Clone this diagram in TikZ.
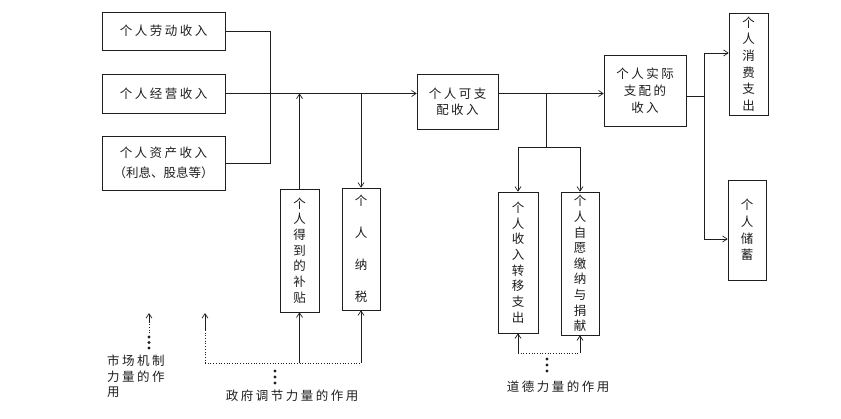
\documentclass[tikz,border=0pt]{standalone}
\usepackage{fontspec}
\newfontfamily\cjk[LetterSpace=20]{Noto Sans CJK SC}
\newfontfamily\cjkn{Noto Sans CJK SC}
\usetikzlibrary{arrows.meta,calc}
\definecolor{cInk}{HTML}{1E1E1E}
\tikzset{
  every node/.style={font=\cjk\fontsize{12.5}{20}\selectfont, text=cInk},
  box/.style={draw=cInk, line width=0.7pt, inner sep=1pt, align=center},
  vbox/.style={box, font=\cjk\fontsize{12.5}{#1}\selectfont},
  vbox/.default=17,
  ln/.style={line width=0.7pt, draw=cInk},
  dln/.style={ln, dotted},
  arr/.style={-{Straight Barb[length=4.5pt,width=6pt]}, line width=0.7pt, draw=cInk},
  dotpt/.style={circle, fill=cInk, inner sep=0pt, minimum size=3.2pt},
}
\begin{document}
\begin{tikzpicture}[x=1pt,y=-1pt]
\useasboundingbox (0,0) rectangle (841,418);
% income sources
\node[box, minimum width=123pt, minimum height=38pt] (lab) at (163.5,31) {个人劳动收入};
\node[box, minimum width=123pt, minimum height=39pt] (biz) at (163.5,93.5) {个人经营收入};
\node[box, minimum width=123pt, minimum height=54pt] (ast) at (163.5,163) {个人资产收入\\{\cjkn（利息、股息等）}};
% government
\node[vbox=15.7, minimum width=39pt, minimum height=123pt] (sub) at (299.5,250.5) {个\\人\\得\\到\\的\\补\\贴};
\node[vbox=32, minimum width=38pt, minimum height=122pt] (tax) at (361,249) {个\\人\\纳\\税};
% disposable income
\node[box, minimum width=81pt, minimum height=55pt, font=\cjk\fontsize{12.5}{16}\selectfont] (disp) at (457.5,101.5) {个人可支\\配收入};
\node[vbox=15.7, minimum width=40pt, minimum height=141pt] (trans) at (518,262.5) {个\\人\\收\\入\\转\\移\\支\\出};
\node[vbox=15.6, minimum width=38pt, minimum height=143pt] (don) at (580,263.5) {个\\人\\自\\愿\\缴\\纳\\与\\捐\\献};
\node[box, minimum width=82pt, minimum height=71pt, font=\cjk\fontsize{12.5}{17}\selectfont] (act) at (645,90.5) {个人实际\\支配的\\收入};
% uses
\node[vbox=16.6, minimum width=39pt, minimum height=102pt] (cons) at (748.5,64) {个\\人\\消\\费\\支\\出};
\node[vbox=16.7, minimum width=38pt, minimum height=100pt] (sav) at (747,230) {个\\人\\储\\蓄};

% main flow
\draw[ln] (lab.east) -- ++(45,0) |- (ast.east);
\draw[arr] (biz.east) -- (biz.east -| disp.west);
\draw[arr] (sub.north) -- (sub.north |- biz.east);
\draw[arr] (tax.north |- biz.east) -- (tax.north);
\draw[arr] (disp.east |- biz.east) -- (act.west |- biz.east);
\coordinate (sp) at (546,147);
\draw[ln] (sp |- biz.east) -- (sp);
\draw[arr] (sp) -| (trans.north);
\draw[arr] (sp) -| (don.north);
\draw[ln] ([yshift=-6pt]act.east) -- ++(18,0) coordinate (fk);
\draw[arr] (fk) |- ([yshift=11pt]cons.west);
\draw[arr] (fk) |- ([yshift=-9pt]sav.west);

% market forces
\coordinate (mb) at (149,333);
\coordinate (mm) at (149,322);
\coordinate (mt) at (149,313);
\draw[dln] (mb) -- (mm);
\draw[arr] (mm) -- (mt);
\foreach \k in {0,1,2} \node[dotpt] (md\k) at (149,{337+5.5*\k}) {};
\node[anchor=north west, align=left, inner sep=0pt, font=\cjk\fontsize{12.5}{15.5}\selectfont] (mtx) at (107,355) {市场机制\\力量的作\\用};

% government forces
\coordinate (gl) at (205,363);
\coordinate (gm) at (205,330);
\coordinate (gt) at (205,313);
\draw[dln] (gl) -- (tax.south |- gl);
\draw[dln] (gl) -- (gm);
\draw[arr] (gm) -- (gt);
\draw[arr] (sub.south |- gl) -- (sub.south);
\draw[arr] (tax.south |- gl) -- (tax.south);
\foreach \k in {0,1,2} \node[dotpt] (gd\k) at (275,{371+6*\k}) {};
\node (gtx) at (292,396) {政府调节力量的作用};

% moral forces
\coordinate (ml) at (513,353);
\draw[dln] (trans.south |- ml) -- (don.south |- ml);
\draw[arr] (trans.south |- ml) -- (trans.south);
\draw[arr] (don.south |- ml) -- (don.south);
\foreach \k in {0,1,2} \node[dotpt] (dd\k) at (547,{359+6*\k}) {};
\node (dtx) at (558,387) {道德力量的作用};
\end{tikzpicture}
\end{document}
